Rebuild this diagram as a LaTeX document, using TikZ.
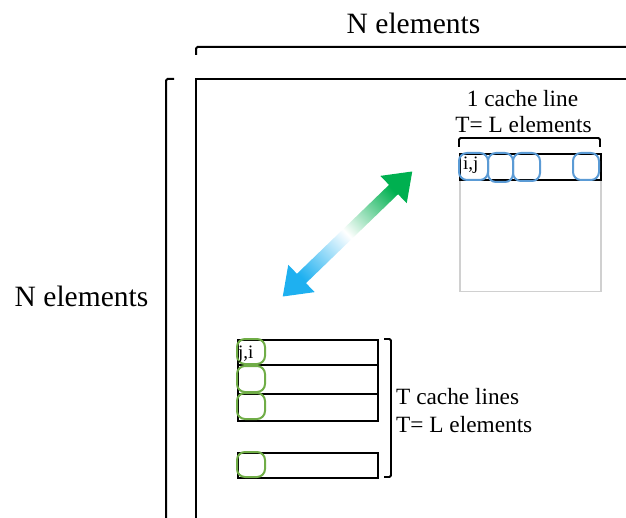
\documentclass[tikz,border=0pt]{standalone}
\usepackage{fontspec}
\setmainfont{Liberation Serif}
\begin{document}
\begin{tikzpicture}[x=1pt,y=-1pt,
  frame/.style={line width=2pt,black},
  rowbox/.style={draw=black,line width=2pt},
  bluecell/.style={draw={rgb,255:red,91;green,155;blue,213},line width=2pt,rounded corners=8pt},
  greencell/.style={draw={rgb,255:red,112;green,173;blue,71},line width=2pt,rounded corners=8pt},
  bigtxt/.style={inner sep=0pt,font=\fontsize{29.5}{34}\selectfont},
  midtxt/.style={inner sep=0pt,font=\fontsize{23.3}{26}\selectfont},
  smalltxt/.style={inner sep=0pt,font=\fontsize{19}{21}\selectfont}]
\useasboundingbox (0,0) rectangle (626,518);
% big matrix outline
\coordinate (sqBL) at (196,530);
\coordinate (sqTL) at (196,79);
\coordinate (sqTR) at (640,79);
\draw[frame] (sqBL) -- (sqTL) -- (sqTR);
% top bracket
\coordinate (tbA) at (196,55);
\coordinate (tbB) at (196,47);
\coordinate (tbC) at (640,47);
\draw[frame,rounded corners=1.5pt] (tbA) -- (tbB) -- (tbC);
% left bracket
\coordinate (lbA) at (174,79);
\coordinate (lbB) at (166,79);
\coordinate (lbC) at (166,530);
\draw[frame,rounded corners=1.5pt] (lbA) -- (lbB) -- (lbC);
% labels
\node[bigtxt,anchor=base] (ntop) at (413.5,34) {N elements};
\node[bigtxt,anchor=base] (nleft) at (81.5,307) {N elements};
% upper cache block
\node[draw={rgb,255:red,208;green,208;blue,208},line width=1.5pt,minimum width=141pt,minimum height=138pt,inner sep=0pt,anchor=north west] (graybox) at (459,153) {};
\node[rowbox,minimum width=141pt,minimum height=26pt,inner sep=0pt,anchor=north west] (urow) at (459,153) {};
\coordinate (ubA) at (459,147);
\coordinate (ubB) at (459,138);
\coordinate (ubC) at (600,138);
\coordinate (ubD) at (600,147);
\draw[line width=1.8pt,rounded corners=1.5pt] (ubA) -- (ubB) -- (ubC) -- (ubD);
\node[midtxt,anchor=base] (ucl1) at (522.5,107) {1 cache line};
\node[midtxt,anchor=base] (ucl2) at (523.5,133) {T= L elements};
\draw[bluecell] (459,153) rectangle (488,180);
\draw[bluecell] (488,153) rectangle (513,182);
\draw[bluecell] (513,153) rectangle (540,181);
\draw[bluecell] (573,153) rectangle (599,180);
\node[smalltxt,anchor=base west] (ij) at (463,170) {i,j};
% lower cache lines
\node[rowbox,minimum width=140pt,minimum height=25pt,inner sep=0pt,anchor=north west] (r1) at (237,339) {};
\node[rowbox,minimum width=140pt,minimum height=29pt,inner sep=0pt,anchor=north west] (r2) at (237,364) {};
\node[rowbox,minimum width=140pt,minimum height=27pt,inner sep=0pt,anchor=north west] (r3) at (237,393) {};
\node[rowbox,minimum width=140pt,minimum height=25pt,inner sep=0pt,anchor=north west] (r4) at (237,452) {};
\draw[greencell] (237,339) rectangle (265,364);
\draw[greencell] (237,366) rectangle (265,392);
\draw[greencell] (237,393) rectangle (265,419);
\draw[greencell] (237,452) rectangle (265,477);
\node[smalltxt,anchor=base west] (ji) at (238,358) {j,i};
\coordinate (rbA) at (384,339);
\coordinate (rbB) at (391,339);
\coordinate (rbC) at (391,477);
\coordinate (rbD) at (384,477);
\draw[line width=1.8pt,rounded corners=1.5pt] (rbA) -- (rbB) -- (rbC) -- (rbD);
\node[midtxt,anchor=base west] (tcl1) at (396,404) {T cache lines};
\node[midtxt,anchor=base west] (tcl2) at (396,432) {T= L elements};
% gradient double arrow
\path[shift={(347.5,234)},rotate=44,
  left color={rgb,255:red,30;green,176;blue,240},
  right color={rgb,255:red,0;green,176;blue,80},
  middle color=white, shading angle=134]
  (-90,0) -- (-64,19) -- (-64,6.5) -- (64,6.5) -- (64,19) -- (90,0)
  -- (64,-19) -- (64,-6.5) -- (-64,-6.5) -- (-64,-19) -- cycle;
\end{tikzpicture}
\end{document}
